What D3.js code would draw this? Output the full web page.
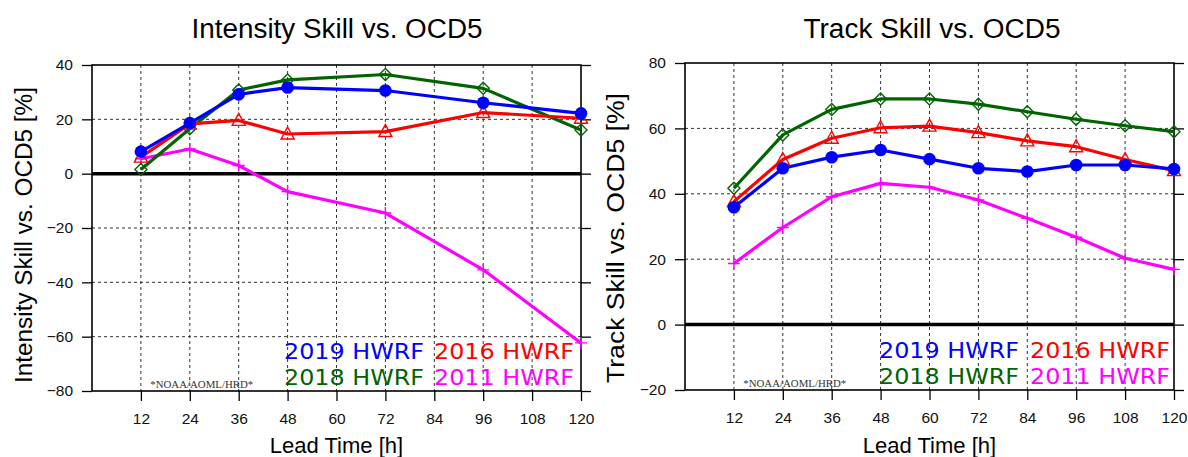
<!DOCTYPE html>
<html>
<head>
<meta charset="utf-8">
<script src="https://cdn.jsdelivr.net/npm/d3@7"></script>
<style>
  html, body { margin: 0; padding: 0; background: #fff; }
  svg { display: block; }
</style>
</head>
<body>
<svg id="chart" width="1188" height="457"></svg>
<script>
// ---- Data ----
const xTicks = [12, 24, 36, 48, 60, 72, 84, 96, 108, 120];

const intensityLeadTimes = [12, 24, 36, 48, 72, 96, 120];
const intensity2019 = [8.1, 18.6, 29.2, 31.7, 30.6, 26.1, 22.2];
const intensity2018 = [1.5, 16.5, 30.8, 34.5, 36.5, 31.4, 16.1];
const intensity2016 = [6.1, 18.3, 19.6, 14.6, 15.5, 22.5, 20.4];
const intensity2011 = [5.5, 9.1, 3.0, -6.6, -14.5, -35.4, -62.3];
const intensityYTicks = [40, 20, 0, -20, -40, -60, -80];

const trackLeadTimes = [12, 24, 36, 48, 60, 72, 84, 96, 108, 120];
const track2019 = [35.9, 47.8, 51.2, 53.4, 50.6, 47.8, 46.8, 48.8, 48.8, 47.6];
const track2018 = [41.7, 58.0, 65.8, 69.0, 69.0, 67.4, 65.1, 62.8, 60.8, 59.0];
const track2016 = [37.6, 50.5, 57.0, 60.2, 60.7, 58.7, 56.2, 54.4, 50.5, 47.1];
const track2011 = [18.7, 29.7, 39.1, 43.2, 42.0, 38.1, 32.5, 26.7, 20.3, 16.9];
const trackYTicks = [80, 60, 40, 20, 0, -20];

const seriesNames = ["2019 HWRF", "2018 HWRF", "2016 HWRF", "2011 HWRF"];
const seriesColors = ["#0000ff", "#006400", "#ff0000", "#ff00ff"];
const seriesMarkers = ["circle", "diamond", "triangle", "plus"];

const panelTitles = ["Intensity Skill vs. OCD5", "Track Skill vs. OCD5"];
const yTitles = ["Intensity Skill vs. OCD5 [%]", "Track Skill vs. OCD5 [%]"];
const xTitle = "Lead Time [h]";
const watermark = "*NOAA/AOML/HRD*";

// ---- Drawing ----
const svg = d3.select("#chart");
const SANS = "'Liberation Sans', Arial, Helvetica, sans-serif";

function drawPanel(p) {
  const g = svg.append("g");
  const x = d3.scaleLinear().domain([0, 120]).range([p.left, p.right]);
  const y = d3.scaleLinear().domain(p.yDomain).range([p.bottom, p.top]);

  // grid
  g.append("g").selectAll("line.v").data(xTicks.filter(d => d < 120)).join("line")
    .attr("x1", d => x(d)).attr("x2", d => x(d))
    .attr("y1", p.top).attr("y2", p.bottom)
    .attr("stroke", "#333").attr("stroke-width", 1).attr("stroke-dasharray", "3,3");
  g.append("g").selectAll("line.h").data(p.yTicks.filter(d => d !== p.yDomain[0] && d !== p.yDomain[1] && d !== 0)).join("line")
    .attr("x1", p.left).attr("x2", p.right)
    .attr("y1", d => y(d)).attr("y2", d => y(d))
    .attr("stroke", "#333").attr("stroke-width", 1).attr("stroke-dasharray", "3,3");

  // zero line
  g.append("line").attr("x1", p.left).attr("x2", p.right)
    .attr("y1", y(0)).attr("y2", y(0))
    .attr("stroke", "#000").attr("stroke-width", 3.5);

  // axes
  const yAxis = d3.axisLeft(y).tickValues(p.yTicks).tickSize(10).tickPadding(9).tickFormat(d3.format("d"));
  const ga = g.append("g").attr("transform", `translate(${p.left},0)`).call(yAxis);
  ga.select(".domain").remove();
  ga.selectAll("line").attr("stroke", "#000").attr("stroke-width", 1.3);
  ga.selectAll("text").attr("font-family", SANS).attr("font-size", 15.5).attr("fill", "#111");

  const yAxisR = d3.axisRight(y).tickValues(p.yTicks).tickSize(10).tickFormat("");
  const gr = g.append("g").attr("transform", `translate(${p.right},0)`).call(yAxisR);
  gr.select(".domain").remove();
  gr.selectAll("line").attr("stroke", "#000").attr("stroke-width", 1.3);

  const xAxis = d3.axisBottom(x).tickValues(xTicks).tickSize(10).tickPadding(12).tickFormat(d3.format("d"));
  const gx = g.append("g").attr("transform", `translate(0,${p.bottom})`).call(xAxis);
  gx.select(".domain").remove();
  gx.selectAll("line").attr("stroke", "#000").attr("stroke-width", 1.3);
  gx.selectAll("text").attr("font-family", SANS).attr("font-size", 15.5).attr("fill", "#111");

  // frame
  g.append("rect").attr("x", p.left).attr("y", p.top)
    .attr("width", p.right - p.left).attr("height", p.bottom - p.top)
    .attr("fill", "none").attr("stroke", "#000").attr("stroke-width", 1.6);

  // watermark
  g.append("text").attr("x", x(14.3)).attr("y", p.bottom - 3)
    .attr("font-family", "'Liberation Serif', 'Times New Roman', serif")
    .attr("font-size", 11).attr("fill", "#333")
    .attr("textLength", 103).attr("lengthAdjust", "spacingAndGlyphs")
    .text(watermark);

  // series
  const order = [3, 1, 2, 0];
  order.forEach(i => {
    const vals = p.series[i];
    const pts = p.lead.map((t, k) => [x(t), y(vals[k])]);
    const col = seriesColors[i];
    g.append("path").attr("d", d3.line()(pts))
      .attr("fill", "none").attr("stroke", col).attr("stroke-width", 3.2)
      .attr("stroke-linejoin", "round");
    const mg = g.append("g");
    pts.forEach(([px, py]) => {
      const m = seriesMarkers[i];
      if (m === "circle") {
        mg.append("circle").attr("cx", px).attr("cy", py).attr("r", 6.3).attr("fill", col);
      } else if (m === "diamond") {
        const s = 6;
        mg.append("path").attr("d", `M${px},${py - s}L${px + s},${py}L${px},${py + s}L${px - s},${py}Z`)
          .attr("fill", "none").attr("stroke", col).attr("stroke-width", 1.4);
      } else if (m === "triangle") {
        const s = 6;
        mg.append("path").attr("d", `M${px},${py - s - 1}L${px + s + 0.5},${py + s - 1}L${px - s - 0.5},${py + s - 1}Z`)
          .attr("fill", "none").attr("stroke", col).attr("stroke-width", 1.4);
      } else {
        const s = 6;
        mg.append("path").attr("d", `M${px - s},${py}L${px + s},${py}M${px},${py - s}L${px},${py + s}`)
          .attr("fill", "none").attr("stroke", col).attr("stroke-width", 1.4);
      }
    });
  });

  // legend
  const legendPos = [[0, 0], [0, 1], [1, 0], [1, 1]];
  seriesNames.forEach((name, i) => {
    const [c, r] = legendPos[i];
    g.append("text").attr("x", p.legendX[c]).attr("y", p.legendY[r])
      .attr("font-family", "'DejaVu Sans', Verdana, sans-serif").attr("font-size", 22)
      .attr("textLength", 140).attr("lengthAdjust", "spacingAndGlyphs")
      .attr("fill", seriesColors[i]).text(name);
  });

  // titles
  g.append("text").attr("x", p.titleX).attr("y", 38).attr("text-anchor", "middle")
    .attr("font-family", SANS).attr("font-size", 27).attr("fill", "#000")
    .attr("textLength", p.titleLen).attr("lengthAdjust", "spacingAndGlyphs")
    .text(p.title);
  g.append("text").attr("x", (p.left + p.right) / 2).attr("y", 453).attr("text-anchor", "middle")
    .attr("font-family", SANS).attr("font-size", 22).attr("fill", "#000")
    .text(xTitle);
  g.append("text")
    .attr("transform", `translate(${p.yTitleX},${p.yTitleY}) rotate(-90)`)
    .attr("text-anchor", "middle")
    .attr("font-family", SANS).attr("font-size", 23).attr("fill", "#000")
    .attr("textLength", p.yTitleLen).attr("lengthAdjust", "spacingAndGlyphs")
    .text(p.yTitle);
}

drawPanel({
  left: 92, right: 581, top: 65, bottom: 391,
  yDomain: [-80, 40], yTicks: intensityYTicks,
  lead: intensityLeadTimes,
  series: [intensity2019, intensity2018, intensity2016, intensity2011],
  legendX: [284, 434], legendY: [359, 385],
  title: panelTitles[0], titleX: 337, titleLen: 291,
  yTitle: yTitles[0], yTitleX: 32, yTitleY: 235, yTitleLen: 296
});

drawPanel({
  left: 685, right: 1174, top: 63, bottom: 390,
  yDomain: [-20, 80], yTicks: trackYTicks,
  lead: trackLeadTimes,
  series: [track2019, track2018, track2016, track2011],
  legendX: [879, 1030], legendY: [358, 384],
  title: panelTitles[1], titleX: 932, titleLen: 257,
  yTitle: yTitles[1], yTitleX: 624, yTitleY: 238, yTitleLen: 290
});
</script>
</body>
</html>
